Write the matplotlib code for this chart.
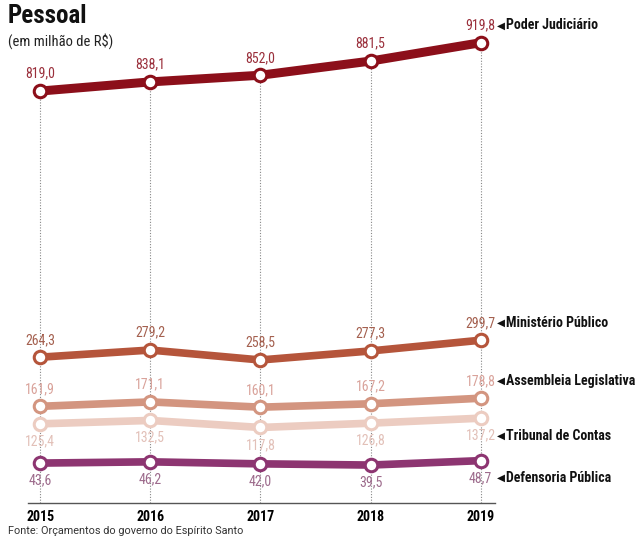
#!/usr/bin/env python
# plot.py - "Pessoal" spending per body, 2015-2019 (em milhão de R$)
import matplotlib
matplotlib.use("Agg")
import matplotlib.pyplot as plt

plt.rcParams["font.family"] = ["Roboto Condensed", "Liberation Sans Narrow",
                               "Lato", "DejaVu Sans"]

years = [2015, 2016, 2017, 2018, 2019]
poder = [819.0, 838.1, 852.0, 881.5, 919.8]
ministerio = [264.3, 279.2, 258.5, 277.3, 299.7]
assembleia = [161.9, 171.1, 160.1, 167.2, 178.8]
tribunal = [125.4, 132.5, 117.8, 126.8, 137.2]
defensoria = [43.6, 46.2, 42.0, 39.5, 48.7]

names = ["Poder Judiciário", "Ministério Público", "Assembleia Legislativa",
         "Tribunal de Contas", "Defensoria Pública"]
series = [poder, ministerio, assembleia, tribunal, defensoria]
line_colors = ["#8c0f1a", "#b5553b", "#d39580", "#ecccc1", "#8d3571"]
label_colors = ["#9a2f3b", "#a4604f", "#d9a29a", "#e2c0b8", "#9d6b8c"]
label_above = [True, True, True, False, False]
widths = [6.5, 5.5, 5.5, 5.5, 5.5]


def fmt(v):
    return ("%.1f" % v).replace(".", ",")


fig = plt.figure(figsize=(6.37, 5.36), dpi=100)
ax = fig.add_axes([28 / 637, 33 / 536, 467 / 637, 503 / 536])
ax.set_xlim(2014.89, 2019.13)
ax.set_ylim(-39.6, 1008.8)

# dotted guides from baseline up to top series
ax.vlines(years, -39.6, poder, colors="#888888", linestyles=(0, (1, 1.5)),
          linewidth=0.8, zorder=1)

for vals, name, lc, tc, up, lw in zip(series, names, line_colors, label_colors,
                                      label_above, widths):
    ax.plot(years, vals, color=lc, lw=lw, solid_capstyle="round", zorder=3,
            marker="o", markersize=9, markerfacecolor="white",
            markeredgecolor=lc, markeredgewidth=2.2)
    dy = 12.5 if up else -12.5
    for x, v in zip(years, vals):
        ax.annotate(fmt(v), (x, v), xytext=(0, dy), textcoords="offset points",
                    ha="center", va="center", fontsize=10, color=tc,
                    annotation_clip=False)
    ax.annotate("\u25c0", (years[-1], vals[-1]), xytext=(12, dy),
                textcoords="offset points", ha="left", va="center",
                fontsize=7.5, color="#111111", family="DejaVu Sans",
                annotation_clip=False)
    ax.annotate(name, (years[-1], vals[-1]), xytext=(18.5, dy),
                textcoords="offset points", ha="left", va="center",
                fontsize=10, fontweight="bold", color="#111111",
                annotation_clip=False)

for s in ("top", "right", "left"):
    ax.spines[s].set_visible(False)
ax.spines["bottom"].set_color("#555555")
ax.spines["bottom"].set_linewidth(1.0)
ax.set_yticks([])
ax.set_xticks(years)
ax.set_xticklabels([str(y) for y in years], fontsize=10, fontweight="bold")
ax.tick_params(axis="x", length=0, pad=5)

fig.text(8 / 637, 1 - 16 / 536, "Pessoal", fontsize=18, fontweight="bold",
         va="center", ha="left", color="#111111")
fig.text(8 / 637, 1 - 41 / 536, "(em milhão de R$)", fontsize=10.5,
         va="center", ha="left", color="#222222")
fig.text(8 / 637, 1 - 531 / 536, "Fonte: Orçamentos do governo do Espírito Santo",
         fontsize=7.8, va="center", ha="left", color="#333333",
         family=["Roboto", "DejaVu Sans"])

fig.savefig("out.png", dpi=100)
